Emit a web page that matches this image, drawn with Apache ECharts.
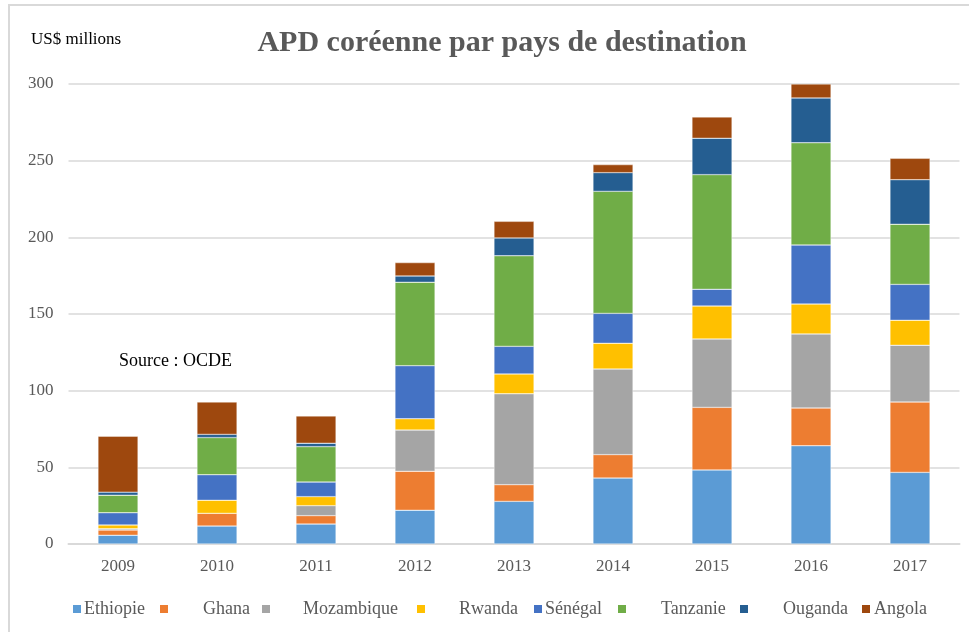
<!DOCTYPE html>
<html lang="fr">
<head>
    <meta charset="UTF-8">
    <title>APD coréenne par pays de destination</title>
    <style>
        html, body { margin: 0; padding: 0; background: #fff; }
        #chart { width: 969px; height: 632px; }
    </style>
</head>
<body>
<div id="chart"></div>
<script src="https://cdn.jsdelivr.net/npm/echarts@6/dist/echarts.min.js"></script>
<script>
    var years = ['2009', '2010', '2011', '2012', '2013', '2014', '2015', '2016', '2017'];

    var ethiopie   = [5.7, 11.7, 13.0, 22.0, 27.8, 43.0, 48.3, 64.1, 46.7];
    var ghana      = [3.4, 8.3, 5.5, 25.4, 10.9, 15.3, 40.8, 24.6, 45.9];
    var mozambique = [0.8, 0, 6.5, 26.9, 59.3, 55.8, 44.6, 48.3, 37.0];
    var rwanda     = [2.5, 8.5, 5.9, 7.4, 12.9, 16.8, 21.5, 19.5, 16.3];
    var senegal    = [8.0, 16.7, 9.5, 34.6, 18.0, 19.5, 10.9, 38.5, 23.4];
    var tanzanie   = [11.4, 24.2, 23.1, 54.4, 59.1, 79.6, 74.8, 66.7, 39.2];
    var ouganda    = [2.0, 2.1, 2.2, 4.1, 11.6, 12.2, 23.7, 29.2, 29.1];
    var angola     = [36.5, 21.1, 17.8, 8.7, 10.8, 5.2, 13.9, 9.1, 13.9];

    var names  = ['Ethiopie', 'Ghana', 'Mozambique', 'Rwanda', 'Sénégal', 'Tanzanie', 'Ouganda', 'Angola'];
    var values = [ethiopie, ghana, mozambique, rwanda, senegal, tanzanie, ouganda, angola];
    var colors = ['#5B9BD5', '#ED7D31', '#A5A5A5', '#FFC000', '#4472C4', '#70AD47', '#255E91', '#9E480E'];

    // legend placement: marker x, text x (Excel-like uneven spacing)
    var legendMarkerX = [71, 158, 260, 415, 532, 616, 738, 860];
    var legendTextX   = [83, 202, 302, 458, 544, 660, 782, 873];

    var font = '"Liberation Serif", "DejaVu Serif", serif';

    var series = names.map(function (name, i) {
        return {
            name: name,
            type: 'bar',
            stack: 'total',
            barWidth: 40,
            itemStyle: {color: colors[i], borderColor: '#ffffff', borderWidth: 0.4},
            data: values[i]
        };
    });

    var legends = names.map(function (name, i) {
        return {
            data: [name],
            left: legendMarkerX[i],
            top: 600,
            padding: 0,
            itemWidth: 10,
            itemHeight: 10,
            icon: 'path://M0,0h10v10h-10z',
            textStyle: {
                fontFamily: font,
                fontSize: 18,
                color: '#595959',
                padding: [0, 0, 0, legendTextX[i] - legendMarkerX[i] - 15]
            }
        };
    });

    var option = {
        animation: false,
        backgroundColor: '#ffffff',
        title: {
            text: 'APD coréenne par pays de destination',
            left: 497,
            textAlign: 'center',
            top: 23,
            textStyle: {fontFamily: font, fontSize: 30, fontWeight: 'bold', color: '#595959'}
        },
        legend: legends,
        grid: {left: 68.5, right: 9.5, top: 84, bottom: 88},
        xAxis: {
            type: 'category',
            data: years,
            axisTick: {show: false},
            axisLine: {lineStyle: {color: '#d9d9d9', width: 2}},
            axisLabel: {fontFamily: font, fontSize: 17, color: '#595959', margin: 14}
        },
        yAxis: {
            type: 'value',
            min: 0,
            max: 300,
            interval: 50,
            axisLine: {show: false},
            axisTick: {show: false},
            splitLine: {lineStyle: {color: '#d9d9d9', width: 1.5}},
            axisLabel: {fontFamily: font, fontSize: 17, color: '#595959', margin: 15}
        },
        graphic: [
            {
                type: 'rect',
                shape: {x: 9, y: 5, width: 1000, height: 700},
                style: {fill: 'none', stroke: '#d9d9d9', lineWidth: 2},
                silent: true
            },
            {
                type: 'text',
                left: 31,
                top: 31,
                style: {text: 'US$ millions', font: '17px ' + font, fill: '#000000'}
            },
            {
                type: 'text',
                left: 119,
                top: 352,
                style: {text: 'Source : OCDE', font: '18px ' + font, fill: '#000000'}
            }
        ],
        series: series
    };

    var myChart = echarts.init(document.getElementById('chart'));
    myChart.setOption(option);
</script>
</body>
</html>
